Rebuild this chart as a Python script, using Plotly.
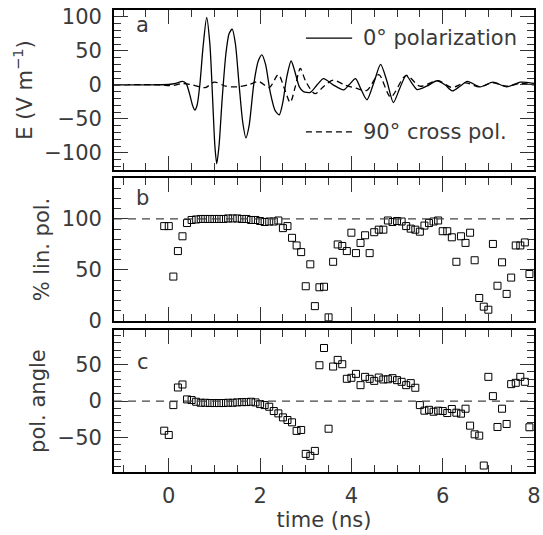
import plotly.graph_objects as go
from plotly.subplots import make_subplots

# ---- panel a: electric field waveforms ----
e0_time = [-1.2, -0.5, 0.0, 0.15, 0.30, 0.38, 0.45, 0.52, 0.57, 0.62, 0.68, 0.75, 0.83, 0.90, 0.96,
           1.01, 1.05, 1.10, 1.17, 1.25, 1.32, 1.39, 1.46, 1.54, 1.62, 1.69, 1.76, 1.86, 1.96, 2.04,
           2.12, 2.22, 2.33, 2.42, 2.50, 2.58, 2.68, 2.76, 2.86, 2.95, 3.10, 3.25, 3.39, 3.60, 3.83,
           3.95, 4.09, 4.20, 4.34, 4.50, 4.64, 4.78, 4.92, 5.06, 5.20, 5.32, 5.44, 5.65, 5.88, 6.05,
           6.21, 6.38, 6.54, 6.82, 7.10, 7.40, 7.70, 8.00]
e0_value = [0, 0, 0.5, 2, 5, 2, -12, -30, -37, -30, 0, 55, 99, 60, -20,
            -90, -116, -90, -20, 45, 75, 82, 60, 0, -55, -78, -60, 0, 35, 44,
            30, -10, -38, -44, -25, 10, 35, 20, -3, -10, -11, 0, 9, 0, -7.5,
            0, 9, -5, -22, 5, 30, 5, -26, -5, 14, 3, -7, -2, 6, 0,
            -9, -2, 5, -3, 4, -3, 4, 2]

e90_time = [-1.2, -0.2, 0.0, 0.10, 0.30, 0.50, 0.80, 1.00, 1.25, 1.50, 1.75, 1.97, 2.20, 2.40, 2.53,
            2.66, 2.77, 2.88, 3.00, 3.20, 3.40, 3.60, 3.85, 4.10, 4.34, 4.60, 4.86, 5.20, 5.50, 5.90,
            6.20, 6.50, 6.80, 7.10, 7.40, 7.70, 8.00]
e90_value = [0, 0, -1, -1, 2, 0, -4, 4, -2, -3, 0, 5, -4, 15, -5,
             -26, -3, 24, 5, -13, -2, 7, 0, -5, -8, 15, -18, 14, -2, 6,
             -4, 3, -3, 3, -2, 2, 0]

# ---- panels b, c: sampled polarisation quantities ----
pol_time = [-0.10, 0.00, 0.10, 0.20, 0.30, 0.40, 0.50, 0.60, 0.70, 0.80,
            0.90, 1.00, 1.10, 1.20, 1.30, 1.40, 1.50, 1.60, 1.70, 1.80,
            1.90, 2.00, 2.10, 2.20, 2.30, 2.40, 2.50, 2.60, 2.70, 2.80,
            2.90, 3.00, 3.10, 3.20, 3.30, 3.40, 3.50, 3.60, 3.70, 3.80,
            3.90, 4.00, 4.10, 4.20, 4.30, 4.40, 4.50, 4.60, 4.70, 4.80,
            4.90, 5.00, 5.10, 5.20, 5.30, 5.40, 5.50, 5.60, 5.70, 5.80,
            5.90, 6.00, 6.10, 6.20, 6.30, 6.40, 6.50, 6.60, 6.70, 6.80,
            6.90, 7.00, 7.10, 7.20, 7.30, 7.40, 7.50, 7.60, 7.70, 7.80,
            7.90]
lin_pol = [93, 93, 43.5, 68.5, 83, 96, 99, 99.5, 100, 100,
           100, 100, 100, 100, 100.5, 100.5, 100.5, 100, 100, 99,
           99, 98, 97, 97.5, 97.5, 98.5, 91, 93, 81.5, 74,
           67.5, 34, 55.5, 14.5, 33, 33.5, 3.5, 58, 75, 73.5,
           68.5, 86.5, 66.5, 76.5, 84, 66.5, 87, 89.5, 89.5, 98.5,
           97, 98, 97.5, 93, 90.5, 89.5, 87.5, 93.5, 96, 97.5,
           98.5, 88, 88, 82, 58, 83, 76.5, 86.5, 59.5, 22.5,
           14, 11, 75.5, 34.5, 57.5, 26.5, 42.5, 74, 74, 77,
           46]
pol_angle = [-40.7, -46.6, -5.5, 18.7, 22.8, 2.3, 1.4, -0.9, -2.3, -2.3,
             -2.7, -2.7, -2.7, -2.7, -2.3, -2.3, -1.8, -1.4, -1.4, -0.9,
             -1.8, -4.1, -5.5, -7.8, -13.7, -16.9, -22.4, -26, -29.2, -41,
             -39.7, -72.6, -75.3, -68.5, 49.3, 73, -38, 47.5, 56.6, 50.7,
             30.6, 32, 37.4, 21.9, 33.3, 30.6, 27.8, 32.4, 29.7, 30,
             31.5, 28.8, 26.5, 21.9, 24.7, 18.3, -5.5, -13.2, -12, -14.6,
             -13.2, -13.7, -16.4, -10.9, -16, -17.3, -10.5, -33.8, -45.7, -47.5,
             -88.6, 33.3, 6.8, -35.6, -10.5, -31.5, 23.3, 25.1, 33.3, 26.5,
             -36]

x_ticks = [0, 2, 4, 6, 8]

FONT = "DejaVu Sans"
TXT = "#3a3a3a"

fig = make_subplots(rows=3, cols=1, shared_xaxes=True, vertical_spacing=0.02)

fig.add_trace(go.Scatter(x=e0_time, y=e0_value, mode="lines",
                         line=dict(color="black", width=1.3, shape="spline", smoothing=0.7),
                         showlegend=False), row=1, col=1)
fig.add_trace(go.Scatter(x=e90_time, y=e90_value, mode="lines",
                         line=dict(color="black", width=1.3, dash="6px,4px", shape="spline", smoothing=0.8),
                         showlegend=False), row=1, col=1)
sq = dict(symbol="square-open", size=7, color="black", line=dict(width=1, color="black"))
fig.add_trace(go.Scatter(x=pol_time, y=lin_pol, mode="markers", marker=sq, showlegend=False), row=2, col=1)
fig.add_trace(go.Scatter(x=pol_time, y=pol_angle, mode="markers", marker=sq, showlegend=False), row=3, col=1)

axis_common = dict(showline=True, linewidth=1.8, linecolor="black", mirror="allticks",
                   ticks="inside", ticklen=14, tickwidth=1, tickcolor="#333",
                   showgrid=False, zeroline=False, automargin=False,
                   tickfont=dict(family=FONT, size=21, color=TXT))

for r in (1, 2, 3):
    fig.update_xaxes(axis_common, row=r, col=1)
    fig.update_yaxes(axis_common, row=r, col=1)
    fig.update_xaxes(range=[-1.2, 8], tickvals=x_ticks,
                     minor=dict(ticks="inside", ticklen=7, dtick=0.5, tick0=0, tickcolor="#333", tickwidth=1),
                     row=r, col=1)
    fig.update_yaxes(tickmode="linear", tick0=0, dtick=50, ticklabelstandoff=6,
                     minor=dict(ticks="inside", ticklen=7, dtick=10, tick0=0, tickcolor="#333", tickwidth=1),
                     row=r, col=1)

fig.update_xaxes(showticklabels=False, row=1, col=1)
fig.update_xaxes(showticklabels=False, row=2, col=1)
fig.update_xaxes(ticklabelstandoff=4,
                 title=dict(text="time (ns)", font=dict(family=FONT, size=21, color=TXT), standoff=2),
                 row=3, col=1)

fig.update_yaxes(range=[-125, 110], domain=[0.654, 1.0],
                 title=dict(text="E (V m<sup>−1</sup>)", font=dict(family=FONT, size=21, color=TXT), standoff=6),
                 row=1, col=1)
fig.update_yaxes(range=[0, 140], domain=[0.327, 0.636],
                 title=dict(text="% lin. pol.", font=dict(family=FONT, size=21, color=TXT), standoff=6),
                 row=2, col=1)
fig.update_yaxes(range=[-97.5, 97.5], domain=[0.0, 0.307],
                 title=dict(text="pol. angle", font=dict(family=FONT, size=21, color=TXT), standoff=6),
                 row=3, col=1)

# reference dashed lines
fig.add_shape(type="line", xref="x2 domain", x0=0, x1=1, yref="y2", y0=100, y1=100,
              line=dict(color="#444", width=1.3, dash="8px,6px"))
fig.add_shape(type="line", xref="x3 domain", x0=0, x1=1, yref="y3", y0=0, y1=0,
              line=dict(color="#444", width=1.3, dash="8px,6px"))

# legend-like key in panel a
fig.add_shape(type="line", xref="paper", yref="paper", x0=0.457, x1=0.567, y0=0.939, y1=0.939,
              line=dict(color="black", width=1.3))
fig.add_shape(type="line", xref="paper", yref="paper", x0=0.457, x1=0.567, y0=0.736, y1=0.736,
              line=dict(color="black", width=1.3, dash="6px,4px"))
fig.add_annotation(xref="paper", yref="paper", x=0.588, y=0.939, text="0° polarization", showarrow=False,
                   xanchor="left", yanchor="middle", font=dict(family=FONT, size=21, color=TXT))
fig.add_annotation(xref="paper", yref="paper", x=0.588, y=0.736, text="90° cross pol.", showarrow=False,
                   xanchor="left", yanchor="middle", font=dict(family=FONT, size=21, color=TXT))

for lbl, yy in (("a", 0.968), ("b", 0.593), ("c", 0.238)):
    fig.add_annotation(xref="paper", yref="paper", x=0.069, y=yy, text=lbl, showarrow=False,
                       xanchor="center", yanchor="middle", font=dict(family=FONT, size=21, color=TXT))

fig.update_layout(width=543, height=535, margin=dict(l=114, r=9, t=10, b=63),
                  plot_bgcolor="white", paper_bgcolor="white", showlegend=False)

fig.write_html("out.html", config={"displayModeBar": False},
               post_script="document.body.style.margin='0';document.body.style.overflow='hidden';")
